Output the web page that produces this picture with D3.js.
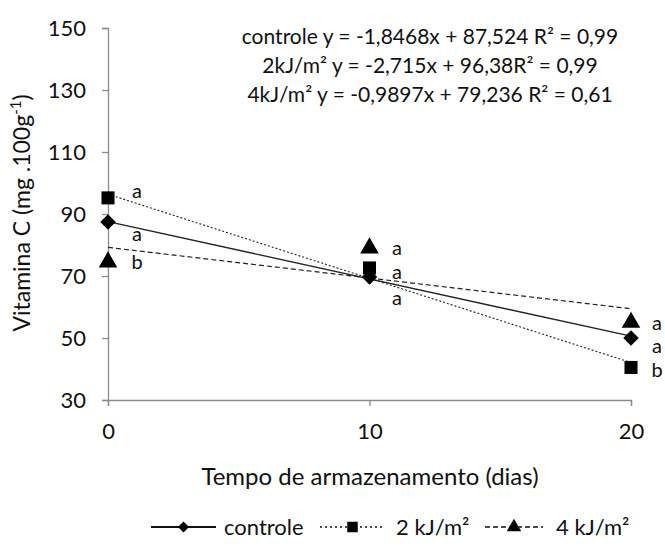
<!DOCTYPE html>
<html>
<head>
<meta charset="utf-8">
<script src="https://cdn.jsdelivr.net/npm/d3@7"></script>
<style>
  body { margin: 0; background: #fff; }
  text { font-family: Lato, "Open Sans", sans-serif; fill: #111; }
</style>
</head>
<body>
<div id="chart"></div>
<script>
// Vitamina C x tempo de armazenamento

// Data
// ==============================
var days = [0, 10, 20];
var seriesNames = ["controle", "2 kJ/m²", "4 kJ/m²"];
var controle = [87.4, 69.7, 50.0];
var kj2 = [95.2, 72.6, 40.5];
var kj4 = [74.5, 79.0, 55.0];
var letters = [["a", "a", "a"], ["a", "a", "b"], ["b", "a", "a"]];
var slopes = [-1.8468, -2.715, -0.9897];
var intercepts = [87.524, 96.38, 79.236];
var equations = [
    "controle  y = -1,8468x + 87,524 R² = 0,99",
    "2kJ/m² y = -2,715x + 96,38R² = 0,99",
    "4kJ/m² y = -0,9897x + 79,236 R² = 0,61"
];
var yTicks = [30, 50, 70, 90, 110, 130, 150];
var xTicks = [0, 10, 20];

// Setup
// ==============================
var width = 665;
var height = 546;

var svg = d3.select("#chart")
    .append("svg")
    .attr("width", width)
    .attr("height", height);

var x = d3.scaleLinear().domain([0, 20]).range([108, 631]);
var y = d3.scaleLinear().domain([30, 150]).range([400, 28]);

var axisColor = "#8c8c8c";

// Axes
// ==============================
var yAxis = svg.append("g")
    .attr("transform", "translate(" + x(0) + ",0)")
    .call(d3.axisLeft(y).tickValues(yTicks).tickSize(6).tickPadding(16));
var xAxis = svg.append("g")
    .attr("transform", "translate(0," + y(30) + ")")
    .call(d3.axisBottom(x).tickValues(xTicks).tickSize(6).tickPadding(17));

[xAxis, yAxis].forEach(function(g) {
    g.select(".domain").attr("stroke", axisColor).attr("stroke-width", 1.3);
    g.selectAll(".tick line").attr("stroke", axisColor).attr("stroke-width", 1.3);
    g.selectAll(".tick text")
        .attr("font-size", 22)
        .attr("font-family", "Lato, sans-serif")
        .attr("fill", "#111");
});
yAxis.selectAll(".tick text").attr("dy", "0.35em");

// Axis titles
svg.append("text")
    .attr("x", 370)
    .attr("y", 485)
    .attr("text-anchor", "middle")
    .attr("font-size", 24)
    .text("Tempo de armazenamento (dias)");

var yTitle = svg.append("text")
    .attr("transform", "translate(30,213)rotate(-90)")
    .attr("text-anchor", "middle")
    .attr("font-size", 23);
yTitle.append("tspan").text("Vitamina C (mg .100g");
yTitle.append("tspan").attr("font-size", 15).attr("dy", -9).text("-1");
yTitle.append("tspan").attr("dy", 9).text(")");

// Trend lines
// ==============================
var dashes = [null, "2,2", "5,3"];
var widths = [1.4, 1.1, 1.2];
var line = d3.line()
    .x(function(d) { return x(d[0]); })
    .y(function(d) { return y(d[1]); });

slopes.forEach(function(b, i) {
    var pts = [0, 20].map(function(t) { return [t, intercepts[i] + b * t]; });
    svg.append("path")
        .attr("d", line(pts))
        .attr("fill", "none")
        .attr("stroke", "#222")
        .attr("stroke-width", widths[i])
        .attr("stroke-dasharray", dashes[i]);
});

// Markers
// ==============================
// diamond = square turned 45deg
var shapes = [d3.symbolSquare, d3.symbolSquare, d3.symbolTriangle];
var symSize = [120, 170, 150];
var rot = ["rotate(45)", "", ""];

var allSeries = [controle, kj2, kj4];
// triangles and squares first, diamonds on top
[2, 1, 0].forEach(function(i) {
    svg.append("g").selectAll("path")
        .data(allSeries[i])
        .enter()
        .append("path")
        .attr("d", d3.symbol().type(shapes[i]).size(symSize[i])())
        .attr("transform", function(d, j) {
            return "translate(" + x(days[j]) + "," + y(d) + ")" + rot[i];
        })
        .attr("fill", "#000");
});

// Significance letters
// ==============================
var letterPos = [
    [[137, 235], [397, 299], [657, 347]],
    [[137, 192], [397, 273], [657, 371]],
    [[137, 263], [397, 249], [657, 324]]
];
letters.forEach(function(row, i) {
    row.forEach(function(l, j) {
        svg.append("text")
            .attr("x", letterPos[i][j][0])
            .attr("y", letterPos[i][j][1])
            .attr("dy", "0.32em")
            .attr("text-anchor", "middle")
            .attr("font-size", 20)
            .text(l);
    });
});

// Equations
// ==============================
svg.selectAll(".eq")
    .data(equations)
    .enter()
    .append("text")
    .attr("class", "eq")
    .attr("x", 430)
    .attr("y", function(d, i) { return 37 + i * 29; })
    .attr("dy", "0.35em")
    .attr("text-anchor", "middle")
    .attr("font-size", 21)
    .text(function(d) { return d; });

// Legend
// ==============================
var legY = 527;
var legItems = [
    { x0: 151, x1: 216, tx: 224 },
    { x0: 320, x1: 385, tx: 396 },
    { x0: 485, x1: 543, tx: 556 }
];
var legShape = [d3.symbolSquare, d3.symbolSquare, d3.symbolTriangle];
legItems.forEach(function(it, i) {
    svg.append("line")
        .attr("x1", it.x0).attr("x2", it.x1)
        .attr("y1", legY).attr("y2", legY)
        .attr("stroke", "#111")
        .attr("stroke-width", i === 0 ? 1.8 : 1.6)
        .attr("stroke-dasharray", i === 0 ? null : (i === 1 ? "2,3" : "5,3"));
    svg.append("path")
        .attr("d", d3.symbol().type(legShape[i]).size(i === 1 ? 110 : (i === 0 ? 60 : 90))())
        .attr("transform", "translate(" + ((it.x0 + it.x1) / 2) + "," + legY + ")" + (i === 0 ? "rotate(45)" : ""))
        .attr("fill", "#000");
    svg.append("text")
        .attr("x", it.tx)
        .attr("y", legY)
        .attr("dy", "0.35em")
        .attr("font-size", 22)
        .text(seriesNames[i]);
});
</script>
</body>
</html>
